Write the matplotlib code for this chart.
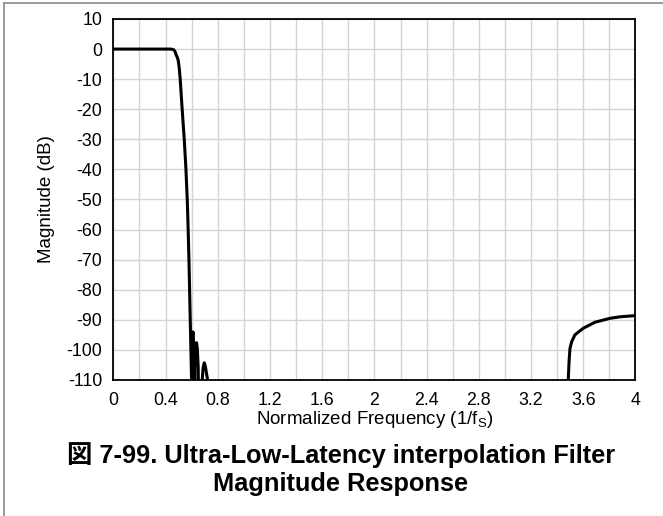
import numpy as np
import matplotlib
matplotlib.use("Agg")
import matplotlib.pyplot as plt
from matplotlib.lines import Line2D

plt.rcParams['font.family'] = ['Liberation Sans', 'Noto Sans CJK JP', 'DejaVu Sans']
plt.rcParams['mathtext.fontset'] = 'custom'
plt.rcParams['mathtext.rm'] = 'Liberation Sans'
plt.rcParams['axes.unicode_minus'] = False

# values (normalized freq, dB); -130 = below the axis floor
freq = [0.0, 0.20, 0.44, 0.462, 0.472, 0.480, 0.490, 0.497, 0.505, 0.512,
        0.527, 0.543, 0.556, 0.566, 0.573, 0.579, 0.584, 0.589, 0.594, 0.599,
        0.600, 0.603, 0.607, 0.610, 0.614, 0.618,
        0.620, 0.626, 0.632, 0.637, 0.643, 0.650, 0.655,
        0.675, 0.681, 0.687, 0.696, 0.705, 0.716, 0.727, 0.735,
        3.47, 3.485, 3.491, 3.498, 3.511, 3.536, 3.600, 3.690, 3.805, 3.881, 4.0]
mag_db = [0.0, 0.0, 0.0, -0.2, -0.8, -1.8, -2.8, -3.8, -6.5, -10.0,
          -20.0, -30.0, -40.0, -50.0, -60.0, -70.0, -80.0, -90.0, -100.0, -110.0,
          -130.0, -100.0, -95.5, -94.0, -97.0, -130.0,
          -130.0, -102.0, -98.2, -97.6, -99.5, -106.0, -130.0,
          -130.0, -110.0, -106.0, -104.3, -105.5, -108.5, -111.0, -130.0,
          -130.0, -110.0, -104.0, -99.5, -97.3, -95.0, -92.8, -90.8, -89.5, -89.0, -88.6]

x_ticks = [0, 0.4, 0.8, 1.2, 1.6, 2, 2.4, 2.8, 3.2, 3.6, 4]
x_labels = ['0', '0.4', '0.8', '1.2', '1.6', '2', '2.4', '2.8', '3.2', '3.6', '4']
y_ticks = list(range(10, -111, -10))

fig = plt.figure(figsize=(6.63, 5.16), dpi=100)
ax = fig.add_axes([0.171, 0.2636, 0.7875, 0.6996])

ax.plot(freq, mag_db, color='black', lw=2.2, solid_joinstyle='round', zorder=3)

ax.set_xlim(0, 4)
ax.set_ylim(-110, 10)
ax.set_xticks(x_ticks)
ax.set_xticklabels(x_labels)
ax.set_xticks(np.arange(0, 4.01, 0.2), minor=True)
ax.set_yticks(y_ticks)
ax.grid(True, which='both', color='#d4d4d4', lw=1.0)
ax.tick_params(which='both', length=0, labelsize=12.8)
ax.tick_params(axis='y', pad=8)
ax.tick_params(axis='x', pad=9)
for s in ax.spines.values():
    s.set_color('black')
    s.set_linewidth(1.3)

ax.set_xlabel(r'Normalized Frequency (1/f$_\mathregular{S}$)', fontsize=13.5, labelpad=0)
ax.set_ylabel('Magnitude (dB)', fontsize=13.5, labelpad=8)

fig.text(0.514, 0.091, '図 7-99. Ultra-Low-Latency interpolation Filter\nMagnitude Response',
         ha='center', va='center', fontsize=18.3, fontweight='bold', linespacing=1.22)

# partial frame around the figure (left and top edges)
fig.add_artist(Line2D([3.5 / 663, 3.5 / 663], [0, 1 - 2.5 / 516], color='#8a8a8a', lw=1.2,
                      transform=fig.transFigure))
fig.add_artist(Line2D([3.5 / 663, 1], [1 - 2.5 / 516, 1 - 2.5 / 516], color='#8a8a8a', lw=1.2,
                      transform=fig.transFigure))

fig.savefig('out.png', dpi=100)
